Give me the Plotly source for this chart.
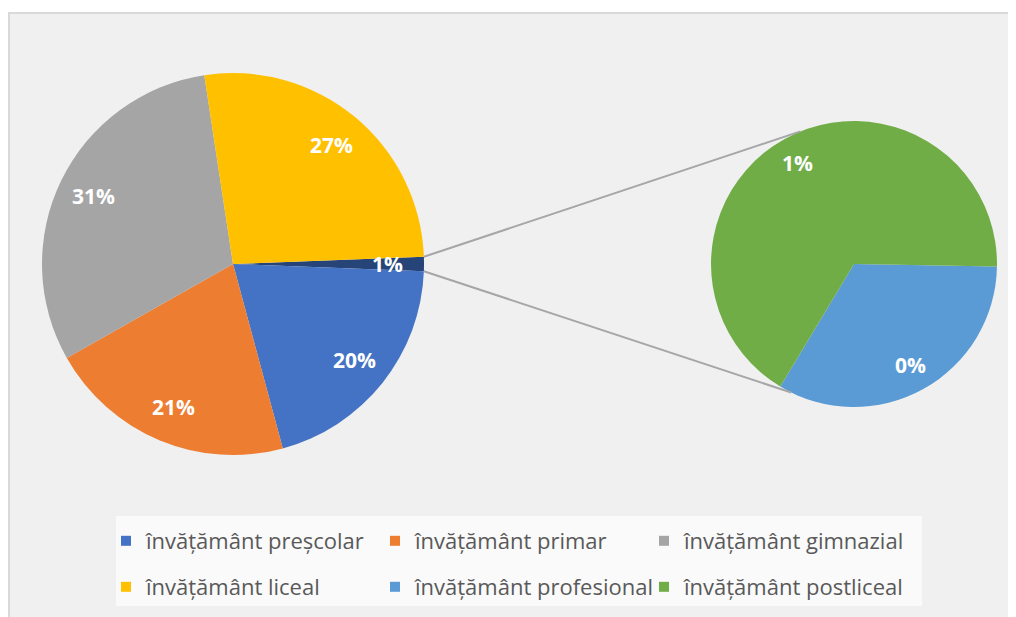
import math
import plotly.graph_objects as go

# ---------------- data ----------------
main_labels = ["învățământ preșcolar", "învățământ primar", "învățământ gimnazial", "învățământ liceal"]
main_values = [20.2, 21.0, 30.8, 26.8]
sub_labels = ["învățământ profesional", "învățământ postliceal"]
sub_values = [0.4, 0.8]

main_colors = ["#4472C4", "#ED7D31", "#A5A5A5", "#FFC000"]
sub_colors = ["#5B9BD5", "#70AD47"]
other_color = "#264478"

# ---------------- geometry / style (page pixels) ----------------
PAGE_W, PAGE_H = 1016, 617
OFF = 8                      # browser body margin
W, H = PAGE_W - OFF, PAGE_H - OFF
MAIN_C, MAIN_R = (233, 264), 191
SUB_C, SUB_R = (854, 264), 143
SUB_START = 91          # plotly rotation (deg from 12 o'clock, clockwise)
LABEL_FRAC = 0.81
CONNECT_TOP, CONNECT_BOTTOM = 248, 116  # deg, clockwise from east, on secondary pie

other_value = sum(sub_values)
main_full_vals = [other_value] + main_values
total = sum(main_full_vals)
other_deg = other_value / total * 360


def px(x):
    return (x - OFF) / W


def py(y):
    return 1 - (y - OFF) / H


def dom(c, r):
    return dict(x=[px(c[0] - r), px(c[0] + r)], y=[py(c[1] + r), py(c[1] - r)])


def point(c, r, ang):
    a = math.radians(ang)
    return c[0] + r * math.cos(a), c[1] + r * math.sin(a)


fig = go.Figure()

fig.add_trace(go.Pie(
    values=main_full_vals,
    labels=["alte"] + main_labels,
    marker=dict(colors=[other_color] + main_colors, line=dict(width=0)),
    sort=False, direction="clockwise", rotation=90 - other_deg / 2,
    textinfo="none", hoverinfo="label+percent", showlegend=False,
    domain=dom(MAIN_C, MAIN_R),
))
fig.add_trace(go.Pie(
    values=sub_values,
    labels=sub_labels,
    marker=dict(colors=sub_colors, line=dict(width=0)),
    sort=False, direction="clockwise", rotation=SUB_START,
    textinfo="none", hoverinfo="label", showlegend=False,
    domain=dom(SUB_C, SUB_R),
))

# ---------------- data labels (computed from the values) ----------------
annotations = []
label_font = dict(family="Open Sans", size=21, color="white", weight="bold")


def add_label(c, r, mid, v):
    x, y = point(c, r * LABEL_FRAC, mid)
    annotations.append(dict(x=px(x), y=py(y), xref="paper", yref="paper", showarrow=False,
                            xanchor="center", yanchor="middle",
                            text=f"{round(v / total * 100)}%", font=label_font))


ang = -other_deg / 2  # clockwise from east
for v in main_full_vals:
    span = v / total * 360
    add_label(MAIN_C, MAIN_R, ang + span / 2, v)
    ang += span

sub_total = sum(sub_values)
ang = SUB_START - 90
for v in sub_values:
    span = v / sub_total * 360
    add_label(SUB_C, SUB_R, ang + span / 2, v)
    ang += span

# ---------------- shapes ----------------
shapes = [
    dict(type="rect", xref="paper", yref="paper", x0=px(9), x1=1.01, y0=-0.01, y1=py(13),
         fillcolor="#F0F0F0", line=dict(color="#D9D9D9", width=2), layer="below"),
    dict(type="rect", xref="paper", yref="paper", x0=px(116), x1=px(922), y0=py(606), y1=py(516),
         fillcolor="#FAFAFA", line=dict(width=0), layer="below"),
]
for a_main, a_sub in [(-other_deg / 2, CONNECT_TOP), (other_deg / 2, CONNECT_BOTTOM)]:
    x0, y0 = point(MAIN_C, MAIN_R, a_main)
    x1, y1 = point(SUB_C, SUB_R, a_sub)
    shapes.append(dict(type="line", xref="paper", yref="paper", x0=px(x0), y0=py(y0), x1=px(x1), y1=py(y1),
                       line=dict(color="#A6A6A6", width=2), layer="above"))

# ---------------- legend (two rows) ----------------
legend_items = list(zip(main_labels + sub_labels, main_colors + sub_colors))
for i, (name, col) in enumerate(legend_items):
    fig.add_trace(go.Scatter(
        x=[None], y=[None], mode="markers", name=name,
        marker=dict(symbol="square", size=10, color=col),
        legend="legend" if i < 3 else "legend2", hoverinfo="skip",
    ))

leg_common = dict(orientation="h", xanchor="left", yanchor="middle",
                  bgcolor="rgba(0,0,0,0)", borderwidth=0,
                  font=dict(family="Open Sans", size=22, color="#595959"),
                  entrywidth=224, entrywidthmode="pixels", itemclick=False, itemdoubleclick=False)

fig.update_layout(
    width=W, height=H,
    margin=dict(l=0, r=0, t=0, b=0),
    paper_bgcolor="white", plot_bgcolor="rgba(0,0,0,0)",
    xaxis=dict(visible=False), yaxis=dict(visible=False),
    shapes=shapes, annotations=annotations,
    legend=dict(x=px(106), y=py(541), **leg_common),
    legend2=dict(x=px(106), y=py(587), **leg_common),
)

fig.write_html("out.html")
